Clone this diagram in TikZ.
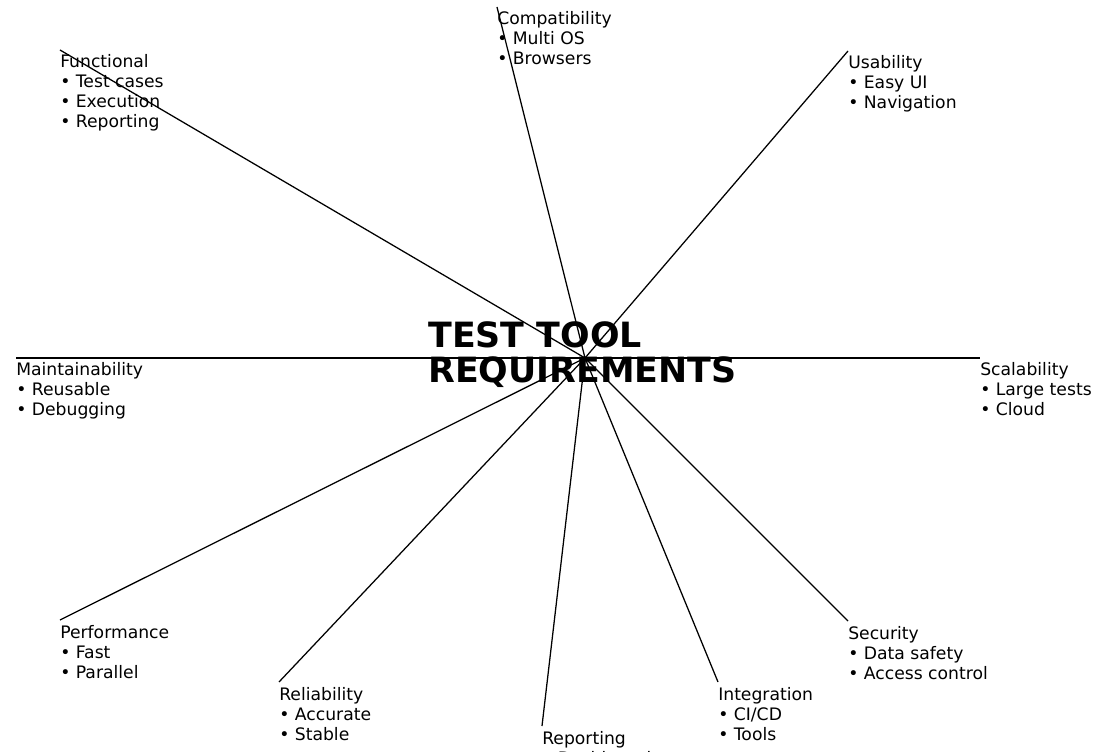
\documentclass[tikz,border=0pt]{standalone}
\usepackage{fontspec}
\setmainfont{DejaVu Sans}
\begin{document}
\begin{tikzpicture}[x=0.75pt,y=-0.75pt,
  spoke/.style={draw=black,line width=0.95pt},
  req/.style={anchor=north west,inner sep=0pt,align=left,
    font=\fontsize{12.9}{15}\selectfont},
  hubtitle/.style={anchor=north,inner sep=0pt,align=left,
    font=\fontsize{26.1}{26.25}\selectfont\bfseries}]
\useasboundingbox (0,0) rectangle (1097,752);
% hub and spoke ends
\coordinate (hub) at (585,358);
\coordinate (eComp)  at (497,7);
\coordinate (eUse)   at (848,51);
\coordinate (eFunc)  at (60,50);
\coordinate (eScal)  at (980,358);
\coordinate (eMaint) at (16,358);
\coordinate (ePerf)  at (60,620);
\coordinate (eRel)   at (279,682);
\coordinate (eRep)   at (542,726);
\coordinate (eInt)   at (718,682);
\coordinate (eSec)   at (848,621);
% title
\node[hubtitle] (title) at (582.5,321) {\rule{0pt}{20pt}TEST TOOL\\REQUIREMENTS};
% spokes
\foreach \e in {eComp,eUse,eFunc,eScal,eMaint,ePerf,eRel,eRep,eInt,eSec}
  \draw[spoke] (hub) -- (\e);
% requirement labels
\newcommand{\fl}{\rule{0pt}{13.3pt}}
\node[req] (comp)  at (eComp)  {\fl Compatibility\\• Multi OS\\• Browsers};
\node[req] (use)   at (eUse)   {\fl Usability\\• Easy UI\\• Navigation};
\node[req] (func)  at (eFunc)  {\fl Functional\\• Test cases\\• Execution\\• Reporting};
\node[req] (scal)  at (eScal)  {\fl Scalability\\• Large tests\\• Cloud};
\node[req] (maint) at (eMaint) {\fl Maintainability\\• Reusable\\• Debugging};
\node[req] (perf)  at (ePerf)  {\fl Performance\\• Fast\\• Parallel};
\node[req] (rel)   at (eRel)   {\fl Reliability\\• Accurate\\• Stable};
\node[req] (rep)   at (eRep)   {\fl Reporting\\• Dashboards};
\node[req] (int)   at (eInt)   {\fl Integration\\• CI/CD\\• Tools};
\node[req] (sec)   at (eSec)   {\fl Security\\• Data safety\\• Access control};
\end{tikzpicture}
\end{document}
